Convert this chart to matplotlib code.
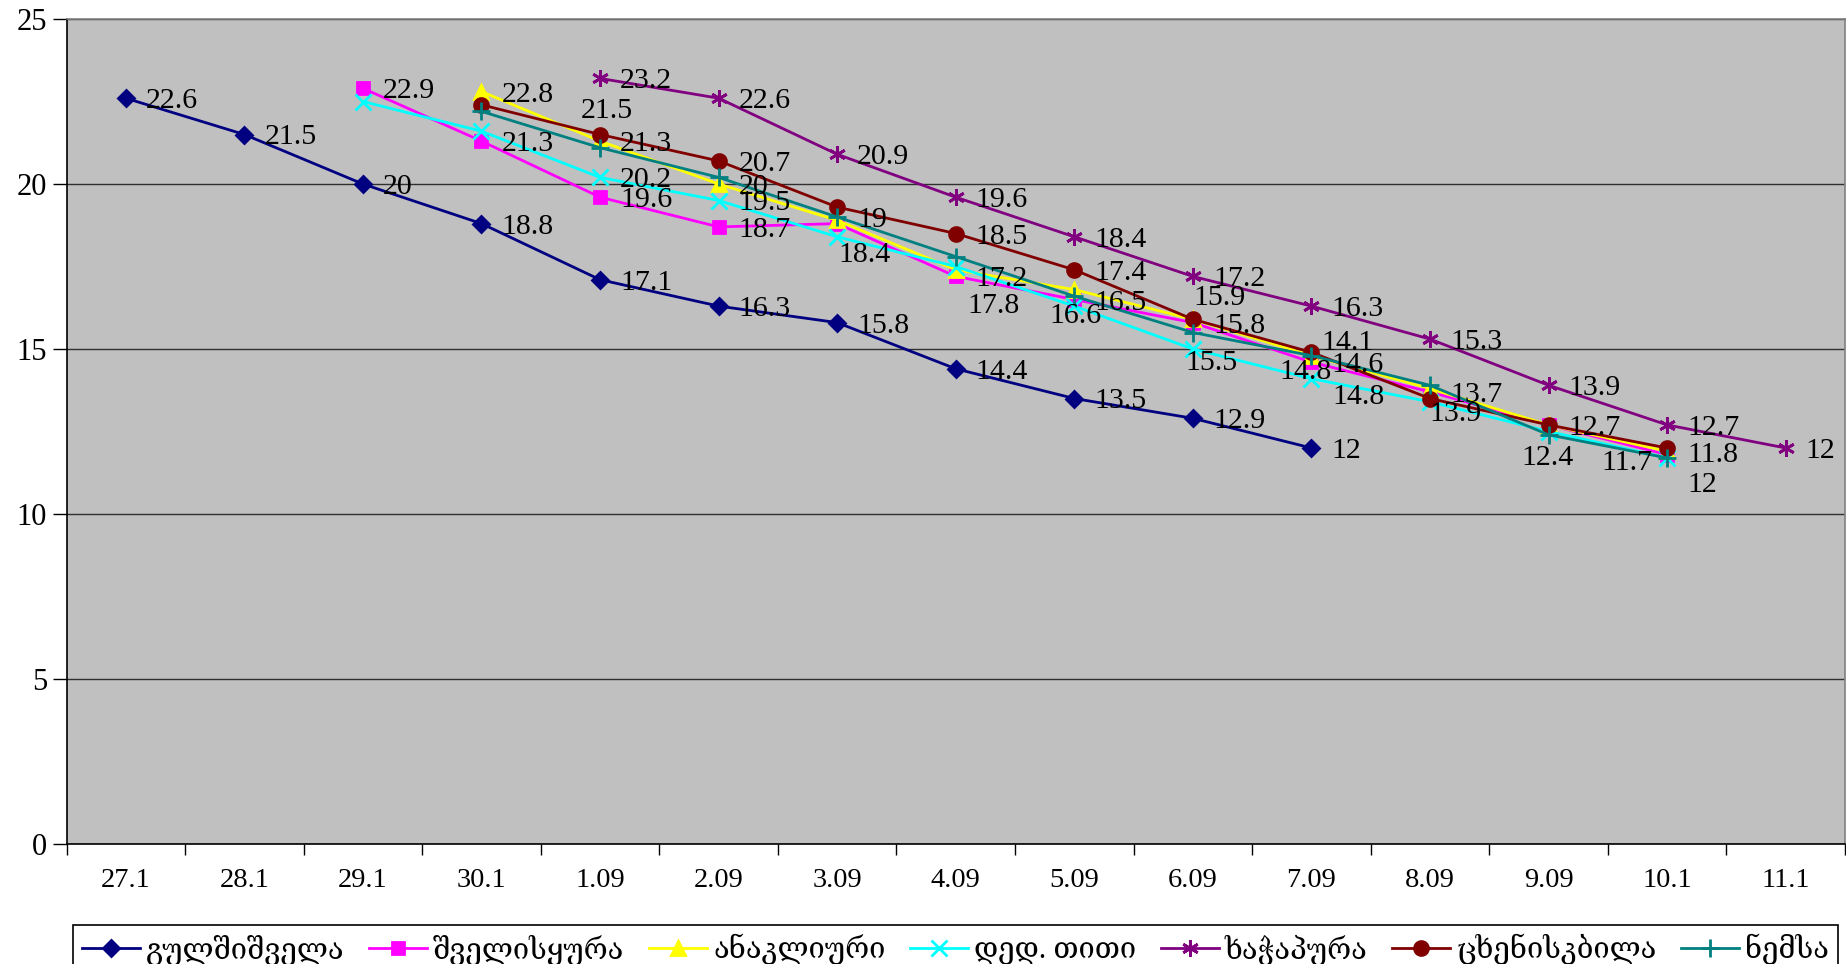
import matplotlib
matplotlib.use('AGG')
import matplotlib.pyplot as plt
import numpy as np

plt.rcParams['font.family'] = ['Liberation Serif', 'DejaVu Serif', 'DejaVu Sans']

nan = np.nan
# dates on the category axis
dates = ['27.1', '28.1', '29.1', '30.1', '1.09', '2.09', '3.09', '4.09',
         '5.09', '6.09', '7.09', '8.09', '9.09', '10.1', '11.1']

names = ['გულშიშველა', 'შველისყურა', 'ანაკლიური', 'დედ. თითი',
         'ხაჭაპურა', 'ცხენისკბილა', 'ნემსა']

gulshishvela = [22.6, 21.5, 20, 18.8, 17.1, 16.3, 15.8, 14.4, 13.5, 12.9, 12, nan, nan, nan, nan]
shvelisyura = [nan, nan, 22.9, 21.3, 19.6, 18.7, 18.8, 17.2, 16.5, 15.8, 14.6, 13.7, 12.7, 11.8, nan]
anakliuri = [nan, nan, nan, 22.8, 21.3, 20.0, 18.9, 17.4, 16.8, 15.9, 14.8, 13.8, 12.7, 11.9, nan]
ded_titi = [nan, nan, 22.5, 21.6, 20.2, 19.5, 18.4, 17.5, 16.3, 15.0, 14.1, 13.4, 12.5, 11.7, nan]
khachapura = [nan, nan, nan, nan, 23.2, 22.6, 20.9, 19.6, 18.4, 17.2, 16.3, 15.3, 13.9, 12.7, 12.0]
tskheniskbila = [nan, nan, nan, 22.4, 21.5, 20.7, 19.3, 18.5, 17.4, 15.9, 14.9, 13.5, 12.7, 12.0, nan]
nemsa = [nan, nan, nan, 22.2, 21.1, 20.2, 19.0, 17.8, 16.6, 15.5, 14.8, 13.9, 12.4, 11.7, nan]

series = [gulshishvela, shvelisyura, anakliuri, ded_titi, khachapura, tskheniskbila, nemsa]
colors = ['#000080', '#FF00FF', '#FFFF00', '#00FFFF', '#800080', '#800000', '#008080']
markers = ['D', 's', '^', 'x', (6, 2, 0), 'o', '+']
msizes = [8, 9, 10, 11, 12, 10, 13]

R = (20, 0, 'left')  # default: label to the right of the point
# which points carry a value label, and where (dx, dy in pixels, dy down)
labels = [
    {i: R for i in range(11)},
    {2: R, 3: R, 4: R, 5: R, 7: R, 8: R, 9: R, 10: R, 11: R, 13: (20, -3, 'left')},
    {3: R, 4: R, 5: R, 10: (21, 38, 'left')},
    {4: R, 5: R, 6: (1, 15, 'left'), 10: (10, -39, 'left'), 13: (-15, 2, 'right')},
    {i: R for i in range(4, 15)},
    {4: (-19, -27, 'left'), 5: R, 7: R, 8: R, 9: (0, -24, 'left'), 12: R, 13: (20, 34, 'left')},
    {6: R, 7: (12, 46, 'left'), 8: (-25, 17, 'left'), 9: (-8, 28, 'left'),
     10: (-32, 13, 'left'), 11: (-1, 26, 'left'), 12: (-27, 20, 'left')},
]

fig = plt.figure(figsize=(18.46, 9.64), dpi=100)
ax = fig.add_axes([66.5 / 1846, 120 / 964, 1778.5 / 1846, 825 / 964])
ax.set_facecolor('#C0C0C0')

x = np.arange(len(dates))
for vals, name, c, m, ms, lab in zip(series, names, colors, markers, msizes, labels):
    vals = np.array(vals, dtype=float)
    ax.plot(x, vals, color=c, lw=2, marker=m, markersize=ms, markerfacecolor=c,
            markeredgecolor=c, markeredgewidth=2, label=name, zorder=3)
    for i, (dx, dy, ha) in lab.items():
        ax.annotate(f'{vals[i]:g}', (x[i], vals[i]), xytext=(dx, -dy),
                    textcoords='offset pixels', ha=ha, va='center_baseline',
                    fontsize=21.5, zorder=4)

ax.set_xlim(-0.5, len(dates) - 0.5)
ax.set_ylim(0, 25)
ax.set_yticks(np.arange(0, 26, 5))
ax.set_xticks(x, dates)
ax.set_xticks(np.arange(-0.5, len(dates), 1), minor=True)
ax.tick_params(axis='x', which='major', length=0, pad=17, labelsize=20.5)
ax.tick_params(axis='x', which='minor', length=8, width=1, direction='out')
ax.tick_params(axis='y', which='major', length=10, width=1, pad=4, labelsize=22)
ax.grid(axis='y', color='#303030', lw=1)
ax.set_axisbelow(True)
for s in ['top', 'right']:
    ax.spines[s].set_color('#808080')
    ax.spines[s].set_linewidth(1.2)
for s in ['left', 'bottom']:
    ax.spines[s].set_color('black')
    ax.spines[s].set_linewidth(1.2)

leg = fig.legend(loc='upper left', bbox_to_anchor=(73 / 1846, 39 / 964 - 0.06, 1765 / 1846, 0.06),
                 mode='expand', ncol=7, borderaxespad=0, fontsize=21, handlelength=2.0,
                 handletextpad=0.2, columnspacing=0.5, fancybox=False, framealpha=1,
                 edgecolor='black', borderpad=0.3)
leg.get_frame().set_linewidth(1.2)

fig.savefig('out.png', dpi=100)
